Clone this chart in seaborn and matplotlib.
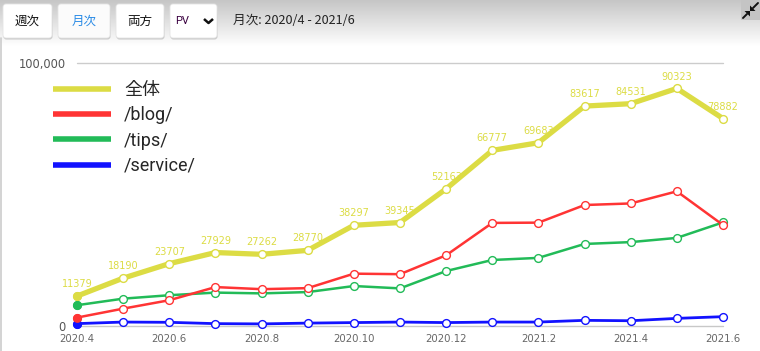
import numpy as np
import pandas as pd
import matplotlib
matplotlib.use("Agg")
import matplotlib.pyplot as plt
from matplotlib.patches import FancyBboxPatch, Rectangle, Polygon
from matplotlib.lines import Line2D
import seaborn as sns

# ---------------- data ----------------
months = ["2020.4", "2020.5", "2020.6", "2020.7", "2020.8", "2020.9", "2020.10",
          "2020.11", "2020.12", "2021.1", "2021.2", "2021.3", "2021.4", "2021.5", "2021.6"]
total = [11379, 18190, 23707, 27929, 27262, 28770, 38297, 39345, 52163, 66777,
         69683, 83617, 84531, 90323, 78882]
blog = [3200, 6600, 9800, 14800, 14000, 14400, 19900, 19700, 26900, 39200,
        39300, 46000, 46600, 51200, 38400]
tips = [7900, 10400, 11700, 12700, 12400, 12900, 15200, 14300, 20900, 25100,
        25900, 31200, 31900, 33500, 39400]
service = [900, 1500, 1400, 900, 800, 1100, 1300, 1500, 1300, 1500,
           1500, 2150, 2000, 2900, 3550]
series_names = ["全体", "/blog/", "/tips/", "/service/"]
xtick_labels = ["2020.4", "2020.6", "2020.8", "2020.10", "2020.12", "2021.2", "2021.4", "2021.6"]

colors = {"全体": "#dcdc44", "/blog/": "#ff3434", "/tips/": "#22bb58", "/service/": "#1212ff"}
widths = {"全体": 3.8, "/blog/": 1.8, "/tips/": 1.8, "/service/": 2.0}

df = pd.DataFrame({
    "idx": list(range(len(months))) * 4,
    "series": sum([[s] * len(months) for s in series_names], []),
    "pv": total + blog + tips + service,
})

sns.set_theme(style="white")
plt.rcParams["font.family"] = ["Roboto", "Noto Sans CJK JP", "DejaVu Sans"]

W, H = 760, 351
fig = plt.figure(figsize=(W / 100, H / 100), dpi=100)

# ---------------- background / header in pixel coords ----------------
bg = fig.add_axes([0, 0, 1, 1], zorder=0)
bg.set_xlim(0, W)
bg.set_ylim(H, 0)
bg.axis("off")
n = 100
gcol = np.zeros((n, 1, 3))
top_c = np.array([198, 198, 198]) / 255
bot_c = np.array([255, 255, 255]) / 255
for i in range(n):
    t = i / (n - 1)
    gcol[i, 0] = top_c * (1 - t) + bot_c * t
bg.imshow(gcol, extent=[0, W, 46, 0], aspect="auto", zorder=0)
bg.plot([1, 1], [38, H], color="#cccccc", lw=1.2, zorder=1)

buttons = [(3, 52, "週次", "#111111", "#ffffff"),
           (58, 110, "月次", "#2a8be6", "#fbfbfb"),
           (116, 164, "両方", "#111111", "#ffffff")]
for x0, x1, lab, tc, fc in buttons:
    sh = FancyBboxPatch((x0 + 0.5, 5.5), x1 - x0, 34, boxstyle="round,pad=0,rounding_size=3",
                        fc="#c9c9c9", ec="none", zorder=2)
    bg.add_patch(sh)
    b = FancyBboxPatch((x0, 4), x1 - x0, 34, boxstyle="round,pad=0,rounding_size=3",
                       fc=fc, ec="#e4e4e4", lw=0.6, zorder=3)
    bg.add_patch(b)
    bg.text((x0 + x1) / 2, 21, lab, ha="center", va="center", fontsize=9.0, color=tc,
            family=["Noto Sans CJK JP", "DejaVu Sans"], zorder=4)
# select box
sh = FancyBboxPatch((170.5, 5.5), 47, 34, boxstyle="round,pad=0,rounding_size=3",
                    fc="#c9c9c9", ec="none", zorder=2)
bg.add_patch(sh)
b = FancyBboxPatch((170, 4), 47, 34, boxstyle="round,pad=0,rounding_size=3",
                   fc="#ffffff", ec="#e4e4e4", lw=0.6, zorder=3)
bg.add_patch(b)
bg.text(175, 21, "PV", ha="left", va="center", fontsize=8, color="#3a0040", zorder=4)
bg.plot([204, 208.5, 213], [19, 23, 19], color="#111111", lw=1.8, zorder=4,
        solid_capstyle="butt")
bg.text(233, 20, "月次: 2020/4 - 2021/6", ha="left", va="center", fontsize=9.1,
        color="#222222", family=["Noto Sans CJK JP", "DejaVu Sans"], zorder=4)
# shrink icon
bg.add_patch(Rectangle((741, 0), 19, 20, fc="#c4c4c4", ec="none", zorder=3))
bg.plot([758, 753], [3, 8], color="#111111", lw=1.4, zorder=4)
bg.add_patch(Polygon([[750, 11], [750, 5.5], [755.5, 11]], closed=True, fc="#111111", ec="none", zorder=4))
bg.plot([743, 747], [18, 14], color="#111111", lw=1.4, zorder=4)
bg.add_patch(Polygon([[750, 11], [744.5, 11], [750, 16.5]], closed=True, fc="#111111", ec="none", zorder=4))

# ---------------- main chart ----------------
left_px, right_px = 77, 723
top_px, bot_px = 63, 326
ax = fig.add_axes([left_px / W, (H - bot_px) / H, (right_px - left_px) / W, (bot_px - top_px) / H],
                  zorder=2)
ax.patch.set_alpha(0)
for s in ax.spines.values():
    s.set_visible(False)

ax.axhline(100000, color="#cccccc", lw=1.0, zorder=1, clip_on=False)
ax.axhline(0, color="#c8c8c8", lw=1.0, zorder=1, clip_on=False)

for name in ["/service/", "/tips/", "/blog/", "全体"]:
    sub = df[df["series"] == name]
    sns.lineplot(data=sub, x="idx", y="pv", ax=ax, color=colors[name], lw=widths[name],
                 marker="o", markersize=5.6, markerfacecolor="white",
                 markeredgecolor=colors[name], markeredgewidth=1.0,
                 zorder=4 if name == "全体" else 3, clip_on=False, legend=False)
    first = sub.iloc[:1]
    sns.scatterplot(data=first, x="idx", y="pv", ax=ax, color=colors[name], s=40,
                    edgecolor=colors[name], linewidth=0, zorder=5, clip_on=False, legend=False)

for i, v in enumerate(total):
    ax.annotate(str(v), (i, v), xytext=(0, 5), textcoords="offset points", ha="center",
                va="bottom", fontsize=7.0, color="#dcdc44", family="DejaVu Sans", zorder=2)

ax.set_xlim(0, len(months) - 1)
ax.set_ylim(0, 100000)
ax.set_xticks([months.index(m) for m in xtick_labels])
ax.set_xticklabels(xtick_labels, family="DejaVu Sans", fontsize=7.3, color="#666666")
ax.set_yticks([0, 100000])
ax.set_yticklabels(["0", "100,000"], family="DejaVu Sans", fontsize=8.3, color="#555555")
ax.tick_params(axis="x", length=0, pad=6)
ax.tick_params(axis="y", length=0, pad=8)
ax.set_xlabel("")
ax.set_ylabel("")
ax.grid(False)

handles = [Line2D([0], [0], color=colors[n], lw=4.0, solid_capstyle="butt") for n in series_names]
leg = fig.legend(handles, series_names, loc="upper left",
                 bbox_to_anchor=(37 / W, (H - 65) / H), bbox_transform=fig.transFigure,
                 frameon=False, handlelength=3.2, handletextpad=0.72,
                 labelspacing=0.4, prop={"family": ["Roboto", "Noto Sans CJK JP"], "size": 13})

fig.savefig("out.png", dpi=100)
